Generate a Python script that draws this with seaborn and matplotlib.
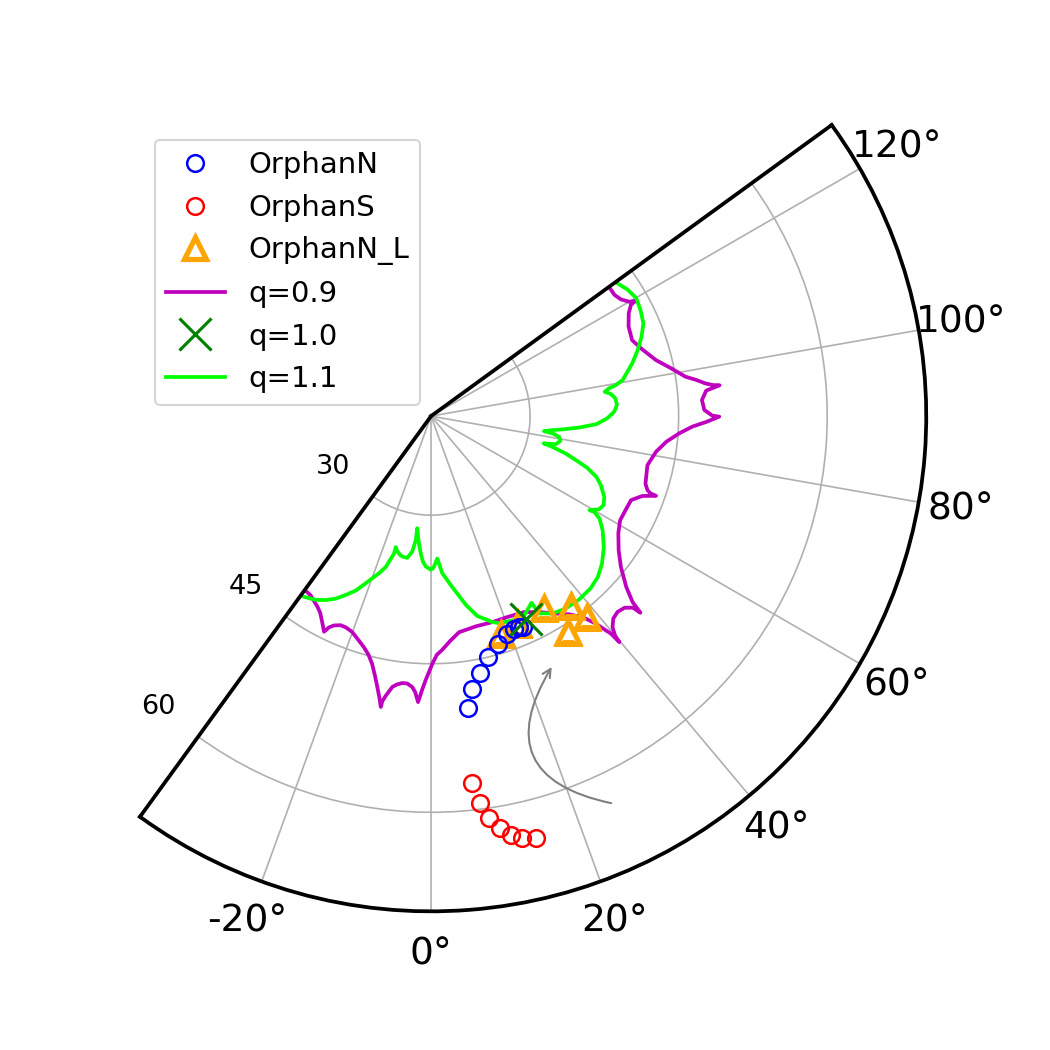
import numpy as np
import matplotlib
matplotlib.use('Agg')
import matplotlib.pyplot as plt
import seaborn as sns

# angles in degrees (0 at the bottom, counter-clockwise), radii in data units
orphan_n_theta = [7.2, 8.6, 10.7, 13.3, 16.4, 19.2, 21.2, 22.6, 23.5]
orphan_n_r = [49.7, 47.9, 46.4, 45.0, 44.0, 43.3, 43.1, 43.1, 43.2]

orphan_s_theta = [6.3, 7.2, 8.2, 9.5, 10.8, 12.2, 14.0]
orphan_s_r = [57.3, 59.4, 61.0, 62.2, 63.1, 63.6, 63.9]

orphan_nl_theta = [17.8, 22.7, 30.5, 36.4, 37.9, 32.4]
orphan_nl_r = [43.1, 42.8, 42.5, 43.8, 45.7, 45.8]

q10_theta = [25.1]
q10_r = [42.6]

q09_theta = [128.0, 125.0, 123.5, 121.6, 120.0, 119.4, 119.1, 117.5, 114.4, 110.7,
             107.4, 104.0, 101.3, 98.8, 97.8, 96.8, 96.3, 96.1, 95.3, 93.4,
             91.3, 90.1, 89.9, 88.8, 87.7, 86.0, 83.8, 81.0, 77.2, 72.5,
             71.1, 70.6, 70.5, 69.3, 67.2, 63.6, 61.1, 58.0, 54.4, 51.5,
             48.8, 47.3, 46.8, 46.5, 45.3, 43.6, 42.0, 40.7, 40.0, 39.8,
             39.6, 39.2, 38.5, 37.0, 34.9, 33.0, 28.9, 25.4, 20.7, 16.5,
             12.1, 7.4, 4.8, 2.8, 1.4, 0.3, -1.2, -1.9, -2.6, -3.3,
             -4.0, -5.1, -6.1, -7.2, -8.1, -9.2, -9.7, -9.8, -10.4, -11.2,
             -12.2, -13.4, -14.7, -16.2, -18.2, -20.1, -21.9, -23.4, -24.9, -25.8,
             -26.4, -28.1, -29.4, -30.8, -32.3, -33.9, -35.8, -38.0]
q09_r = [42.2, 42.2, 42.2, 42.5, 43.1, 43.7, 43.1, 42.5, 41.9, 41.7,
         42.4, 43.4, 44.7, 46.0, 47.0, 47.9, 48.6, 49.3, 47.9, 47.4,
         47.6, 48.4, 49.1, 47.8, 46.4, 45.1, 43.9, 43.0, 42.4, 42.7,
         43.1, 43.5, 44.1, 42.8, 41.9, 41.8, 41.8, 42.3, 43.3, 44.5,
         46.2, 47.7, 49.0, 48.1, 47.5, 47.3, 47.5, 48.1, 48.9, 49.7,
         48.5, 47.9, 46.8, 45.4, 44.4, 43.8, 42.6, 41.9, 41.7, 41.7,
         41.7, 42.0, 42.8, 43.6, 44.1, 45.0, 46.7, 47.7, 48.9, 47.9,
         47.4, 47.1, 47.1, 47.3, 47.6, 48.6, 49.2, 49.8, 48.9, 47.9,
         46.8, 45.7, 44.9, 44.3, 43.7, 43.2, 43.0, 43.0, 43.3, 43.7,
         44.3, 43.4, 42.8, 42.4, 42.1, 41.8, 41.7, 41.6]

q11_theta = [128.0, 125.5, 122.8, 119.9, 116.8, 113.6, 110.6, 107.7, 104.7, 100.7,
             99.5, 98.9, 98.0, 97.0, 95.5, 93.4, 91.4, 89.3, 87.2, 85.6,
             84.2, 83.4, 82.4, 81.9, 80.8, 79.2, 77.3, 76.4, 75.8, 74.5,
             73.1, 71.7, 69.8, 67.9, 65.0, 62.7, 61.0, 59.3, 59.6, 58.7,
             56.4, 52.8, 49.2, 46.0, 42.8, 38.9, 34.8, 31.6, 28.7, 28.3,
             25.1, 21.5, 18.2, 16.6, 13.0, 10.5, 7.1, 4.1, 2.5, 1.1,
             0.6, -0.1, -2.0, -3.2, -4.3, -5.8, -7.0, -7.0, -7.9, -9.5,
             -10.8, -12.3, -13.9, -15.1, -15.1, -15.9, -16.7, -18.3, -19.9, -21.7,
             -23.4, -25.5, -27.6, -29.8, -32.1, -35.1, -38.0]
q11_r = [42.6, 43.1, 43.6, 43.9, 43.7, 43.4, 42.7, 41.9, 41.0, 39.7,
         38.9, 38.2, 37.7, 38.3, 38.7, 38.8, 38.5, 37.8, 36.7, 35.0,
         33.3, 32.3, 31.5, 32.4, 33.1, 33.3, 32.9, 31.7, 32.6, 34.1,
         35.3, 36.6, 37.8, 38.5, 39.3, 39.6, 39.4, 38.6, 39.1, 39.9,
         40.8, 41.9, 42.8, 43.4, 43.7, 43.8, 43.7, 43.4, 42.7, 41.4,
         42.2, 42.2, 42.0, 41.7, 40.7, 39.4, 37.4, 35.9, 34.4, 35.2,
         35.4, 35.5, 35.2, 34.7, 33.9, 32.6, 31.4, 32.6, 33.8, 34.5,
         34.5, 34.4, 34.1, 33.7, 34.4, 35.1, 35.9, 36.7, 37.4, 38.3,
         39.2, 40.0, 40.8, 41.4, 41.9, 42.3, 42.6]

theta_ticks = [-20, 0, 20, 40, 60, 80, 100, 120]
r_ticks = [30, 45, 60]

# curved arrow: tail and head (theta deg, r)
arrow_tail = (24.95, 63.1)
arrow_head = (25.7, 48.1)

fig = plt.figure(figsize=(7, 7), dpi=150)
ax = fig.add_axes([0.1333, 0.1247, 0.7562, 0.7562], projection='polar')
ax.set_theta_zero_location('S')
ax.set_theta_direction(1)
ax.set_thetamin(-36)
ax.set_thetamax(126)
ax.set_ylim(20, 70)

rad = np.deg2rad

sns.lineplot(x=rad(orphan_n_theta), y=orphan_n_r, ax=ax, sort=False, estimator=None,
             linestyle='', marker='o', markersize=8, markerfacecolor='none',
             markeredgecolor='blue', markeredgewidth=1.2, color='blue',
             label='OrphanN', zorder=4)
sns.lineplot(x=rad(orphan_s_theta), y=orphan_s_r, ax=ax, sort=False, estimator=None,
             linestyle='', marker='o', markersize=8, markerfacecolor='none',
             markeredgecolor='red', markeredgewidth=1.2, color='red',
             label='OrphanS', zorder=4)
sns.lineplot(x=rad(orphan_nl_theta), y=orphan_nl_r, ax=ax, sort=False, estimator=None,
             linestyle='', marker='^', markersize=10.5, markerfacecolor='none',
             markeredgecolor='orange', markeredgewidth=2.5, color='orange',
             label='OrphanN_L', zorder=3)
sns.lineplot(x=rad(q09_theta), y=q09_r, ax=ax, sort=False, estimator=None,
             color='m', linewidth=1.8, label='q=0.9', zorder=2)
sns.lineplot(x=rad(q10_theta), y=q10_r, ax=ax, sort=False, estimator=None,
             linestyle='', marker='x', markersize=15, markeredgecolor='green',
             markeredgewidth=1.5, color='green', label='q=1.0', zorder=5)
sns.lineplot(x=rad(q11_theta), y=q11_r, ax=ax, sort=False, estimator=None,
             color='lime', linewidth=1.8, label='q=1.1', zorder=2)

ax.annotate('', xy=(rad(arrow_head[0]), arrow_head[1]),
            xytext=(rad(arrow_tail[0]), arrow_tail[1]),
            arrowprops=dict(arrowstyle='->', color='gray', lw=1.0,
                            shrinkA=0, shrinkB=0,
                            connectionstyle='arc3,rad=-0.7'))

ax.set_thetagrids(theta_ticks)
ax.set_rticks(r_ticks)
ax.tick_params(axis='x', labelsize=18, pad=10)
ax.tick_params(axis='y', labelsize=13, pad=10)
for sp in ax.spines.values():
    sp.set_linewidth(1.8)
ax.set_xlabel('')
ax.set_ylabel('')

ax.legend(loc='upper left', fontsize=14)

fig.savefig('out.png', dpi=150)
